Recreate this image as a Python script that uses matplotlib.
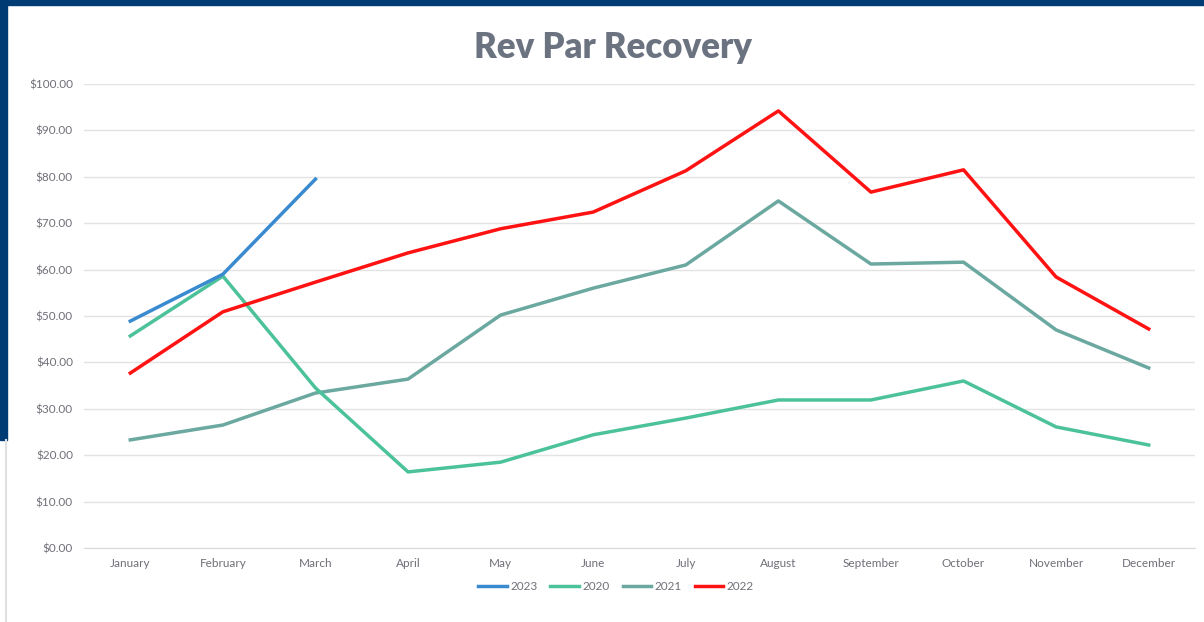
import matplotlib.pyplot as plt
from matplotlib.patches import Rectangle
from matplotlib.lines import Line2D

months = ["January", "February", "March", "April", "May", "June", "July",
          "August", "September", "October", "November", "December"]
rev_2023 = [48.9, 59.0, 79.5]
rev_2020 = [45.7, 58.6, 34.5, 16.4, 18.5, 24.4, 28.0, 31.9, 31.9, 36.0, 26.1, 22.2]
rev_2021 = [23.3, 26.5, 33.4, 36.4, 50.2, 56.0, 61.0, 74.8, 61.2, 61.6, 47.0, 38.8]
rev_2022 = [37.7, 50.9, 57.3, 63.6, 68.8, 72.4, 81.3, 94.2, 76.7, 81.5, 58.4, 47.2]
yticks = list(range(0, 101, 10))

plt.rcParams['font.family'] = ['Lato', 'DejaVu Sans']

W, H = 1204, 622
fig = plt.figure(figsize=(W / 100, H / 100), dpi=100)
fig.patch.set_facecolor('white')

# navy frame on top and left
fig.add_artist(Rectangle((0, 1 - 5 / H), 1, 5 / H, transform=fig.transFigure,
                         color='#003b73', zorder=0))
fig.add_artist(Rectangle((0, 1 - 440 / H), 7 / W, 440 / H, transform=fig.transFigure,
                         color='#003b73', zorder=0))
fig.add_artist(Line2D([6 / W, 6 / W], [0, 1 - 440 / H], transform=fig.transFigure,
                      color='#e0e0e0', lw=1.5))

ax = fig.add_axes([84 / W, 1 - 548 / H, (1195 - 84) / W, (548 - 84) / H])
x = list(range(len(months)))

ax.plot(x[:len(rev_2023)], rev_2023, color='#3a8ad0', lw=2.5, label='2023', zorder=4)
ax.plot(x, rev_2020, color='#4cc29a', lw=2.5, label='2020', zorder=3)
ax.plot(x, rev_2021, color='#6aa8a0', lw=2.5, label='2021', zorder=2)
ax.plot(x, rev_2022, color='#ff1212', lw=2.5, label='2022', zorder=3)

ax.set_xlim(-0.5, len(months) - 0.5)
ax.set_ylim(0, 100)
ax.set_yticks(yticks)
ax.set_yticklabels([f"${v:.2f}" for v in yticks])
ax.set_xticks(x)
ax.set_xticklabels(months)
ax.grid(axis='y', color='#e3e3e3', lw=1)
ax.set_axisbelow(True)
for s in ['top', 'right', 'left']:
    ax.spines[s].set_visible(False)
ax.spines['bottom'].set_color('#d9d9d9')
ax.tick_params(axis='both', length=0, colors='#6f6f78', labelsize=8.5)
ax.tick_params(axis='y', pad=8)
ax.tick_params(axis='x', pad=7)

fig.text(613 / W, 1 - 47 / H, "Rev Par Recovery", ha='center', va='center',
         fontsize=25, fontweight='heavy', color='#6b7280')

ax.legend(loc='center', bbox_to_anchor=(616 / W, 1 - 587 / H),
          bbox_transform=fig.transFigure, ncol=4, frameon=False,
          fontsize=8.5, labelcolor='#6f6f78', handlelength=2.4,
          columnspacing=1.1, handletextpad=0.3)

fig.savefig('out.png', dpi=100)
